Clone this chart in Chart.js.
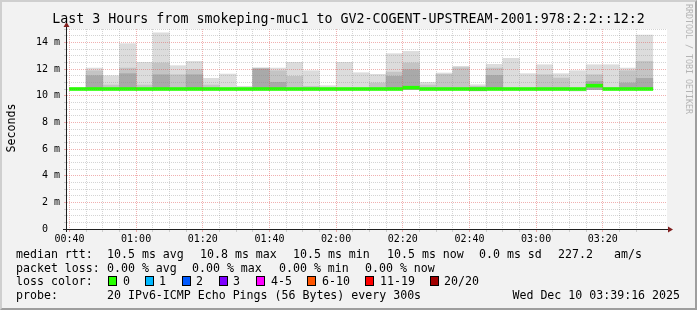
<!DOCTYPE html>
<html>
<head>
<meta charset="utf-8">
<script src="https://cdn.jsdelivr.net/npm/chart.js@4.4.1/dist/chart.umd.min.js"></script>
<style>
  html, body { margin: 0; padding: 0; background: #f2f2f2; }
  #frame { position: relative; width: 697px; height: 310px; background: #f2f2f2; overflow: hidden;
           font-family: "DejaVu Sans Mono", monospace; color: #000; }
  #chart { position: absolute; left: 0; top: 0; }
  #shade { position: absolute; left: 0; top: 0; width: 697px; height: 310px; box-sizing: border-box;
           border-top: 2px solid #cfcfcf; border-left: 2px solid #cfcfcf;
           border-right: 2px solid #9e9e9e; border-bottom: 2px solid #9e9e9e; pointer-events: none; }
  .t { position: absolute; white-space: pre; font-size: 11.6px; line-height: 14px; }
  #title { position: absolute; left: 0; top: 11px; width: 697px; text-align: center; white-space: pre;
           font-size: 13.3px; line-height: 16px; }
  #ylabel { position: absolute; left: -29px; top: 121px; width: 80px; height: 14px; text-align: center;
            font-size: 11.6px; line-height: 14px; transform: rotate(-90deg); }
  #mark { position: absolute; left: 684px; top: 4px; writing-mode: vertical-rl; font-size: 8.3px;
          color: #b4b4b4; white-space: pre; }
  .box { position: absolute; top: 276px; width: 9px; height: 10px; box-sizing: border-box; border: 1px solid #000; }
</style>
</head>
<body>
<div id="frame">
  <canvas id="chart" width="697" height="310"></canvas>
  <div id="title">Last 3 Hours from smokeping-muc1 to GV2-COGENT-UPSTREAM-2001:978:2:2::12:2</div>
  <div id="ylabel">Seconds</div>
  <div id="mark">RRDTOOL / TOBI OETIKER</div>

  <div class="t" style="left:16px;top:247px">median rtt:</div>
  <div class="t" style="left:107px;top:247px">10.5 ms avg</div>
  <div class="t" style="left:200px;top:247px">10.8 ms max</div>
  <div class="t" style="left:293px;top:247px">10.5 ms min</div>
  <div class="t" style="left:387px;top:247px">10.5 ms now</div>
  <div class="t" style="left:479px;top:247px">0.0 ms sd</div>
  <div class="t" style="left:558px;top:247px">227.2</div>
  <div class="t" style="left:614px;top:247px">am/s</div>

  <div class="t" style="left:16px;top:261px">packet loss:</div>
  <div class="t" style="left:107px;top:261px">0.00 % avg</div>
  <div class="t" style="left:192px;top:261px">0.00 % max</div>
  <div class="t" style="left:279px;top:261px">0.00 % min</div>
  <div class="t" style="left:365px;top:261px">0.00 % now</div>

  <div class="t" style="left:16px;top:274px">loss color:</div>
  <div id="lossKeys"></div>

  <div class="t" style="left:16px;top:288px">probe:</div>
  <div class="t" style="left:107px;top:288px">20 IPv6-ICMP Echo Pings (56 Bytes) every 300s</div>
  <div class="t" style="right:17px;top:288px">Wed Dec 10 03:39:16 2025</div>

  <div id="shade"></div>
</div>
<script>
// 5 minute steps, start time of each step
const times = ["00:40","00:45","00:50","00:55","01:00","01:05","01:10","01:15","01:20","01:25",
  "01:30","01:35","01:40","01:45","01:50","01:55","02:00","02:05","02:10","02:15",
  "02:20","02:25","02:30","02:35","02:40","02:45","02:50","02:55","03:00","03:05",
  "03:10","03:15","03:20","03:25","03:30"];

// values in ms
const medianRtt = [10.5,10.5,10.5,10.5,10.5,10.5,10.5,10.5,10.5,10.5,
  10.5,10.5,10.5,10.5,10.5,10.5,10.5,10.5,10.5,10.5,
  10.6,10.5,10.5,10.5,10.5,10.5,10.5,10.5,10.5,10.5,
  10.5,10.75,10.5,10.5,10.5];
const pingMin = [10.45,10.45,10.45,10.45,10.45,10.45,10.45,10.45,10.45,10.45,
  10.45,10.45,10.45,10.45,10.45,10.45,10.45,10.45,10.45,10.45,
  10.45,10.45,10.45,10.45,10.37,10.45,10.45,10.45,10.45,10.45,
  10.35,10.45,10.45,10.45,10.45];
const pingMax = [10.6,12.07,11.5,13.9,12.5,14.72,12.25,12.57,11.3,11.62,
  10.7,12.07,12.07,12.5,11.87,10.75,12.5,11.72,11.6,13.15,
  13.32,11.0,11.7,12.2,10.82,12.35,12.8,11.65,12.32,11.65,
  11.87,12.32,12.32,12.07,14.55];
const upperBand = [null,11.87,10.8,12.07,10.8,12.45,11.57,11.95,10.8,null,
  null,12.07,11.87,11.45,10.7,null,null,null,10.95,11.77,
  12.45,10.8,11.6,12.1,10.7,12.07,null,null,11.57,11.32,
  null,11.57,10.6,11.87,12.57];
const innerBand = [null,11.5,null,11.65,null,11.57,null,11.57,null,null,
  null,12.0,11.0,null,null,null,null,null,null,11.45,
  11.95,null,null,null,10.6,11.52,null,null,null,null,
  null,11.07,null,10.95,11.3];

const xTickLabels = ["00:40","01:00","01:20","01:40","02:00","02:20","02:40","03:00","03:20"];
const yTickLabels = ["0  ","2 m","4 m","6 m","8 m","10 m","12 m","14 m"];

const lossLabels = ["0","1","2","3","4-5","6-10","11-19","20/20"];
const lossColors = ["#26ff00","#00b8ff","#0059ff","#7e00ff","#ff00ff","#ff5500","#ff0000","#a10000"];

// minutes after 00:40
const toMin = t => { const [h, m] = t.split(":").map(Number); return h * 60 + m - 40; };
const stepMin = 5;
const xStart = -44 / 60;          // 00:39:16
const xEnd = 180 + xStart;        // 03:39:16

function band(tops) {
  return times.map((t, i) => tops[i] == null ? null : { x: toMin(t) + stepMin / 2, y: [pingMin[i], tops[i]] })
    .filter(Boolean);
}

// loss color legend
const keyPos = [[108, 123], [145, 159], [182, 196], [219, 233], [256, 271], [307, 322], [365, 380], [430, 444]];
const keys = document.getElementById("lossKeys");
lossLabels.forEach((lbl, i) => {
  const b = document.createElement("div");
  b.className = "box";
  b.style.left = keyPos[i][0] + "px";
  b.style.background = lossColors[i];
  keys.appendChild(b);
  const s = document.createElement("div");
  s.className = "t";
  s.style.left = keyPos[i][1] + "px";
  s.style.top = "274px";
  s.textContent = lbl;
  keys.appendChild(s);
});

const plotBackground = {
  id: "plotBackground",
  beforeDraw(chart) {
    const { ctx, chartArea: a } = chart;
    ctx.save();
    ctx.fillStyle = "#ffffff";
    ctx.fillRect(a.left, a.top, a.right - a.left, a.bottom - a.top);
    ctx.restore();
  }
};

const axisArrows = {
  id: "axisArrows",
  afterDraw(chart) {
    const { ctx, chartArea: a } = chart;
    const yb = Math.round(a.bottom) + 0.5;
    const xl = Math.round(a.left) - 0.5;
    ctx.save();
    ctx.strokeStyle = "#1f1f1f";
    ctx.lineWidth = 1;
    ctx.beginPath();
    ctx.moveTo(a.left - 4, yb); ctx.lineTo(a.right + 3, yb);
    ctx.moveTo(xl, a.bottom + 3); ctx.lineTo(xl, a.top - 3);
    ctx.stroke();
    ctx.fillStyle = "#801f1f";
    ctx.beginPath();
    ctx.moveTo(a.right + 1, yb - 3); ctx.lineTo(a.right + 6, yb); ctx.lineTo(a.right + 1, yb + 3);
    ctx.closePath(); ctx.fill();
    ctx.beginPath();
    ctx.moveTo(xl - 3, a.top - 2); ctx.lineTo(xl, a.top - 7); ctx.lineTo(xl + 3, a.top - 2);
    ctx.closePath(); ctx.fill();
    ctx.restore();
  }
};

const minorGrid = "rgba(143,143,143,0.38)";
const majorGrid = "rgba(222,79,79,0.45)";
const tickFont = { family: '"DejaVu Sans Mono", monospace', size: 10 };

new Chart(document.getElementById("chart"), {
  type: "bar",
  data: {
    datasets: [
      {
        label: "median rtt",
        order: 0,
        data: times.map((t, i) => ({ x: toMin(t) + stepMin / 2, y: [medianRtt[i] - 0.11, medianRtt[i] + 0.11] })),
        backgroundColor: lossColors[0]
      },
      { label: "smoke 3", order: 1, data: band(innerBand), backgroundColor: "#a9a9a9" },
      { label: "smoke 2", order: 2, data: band(upperBand), backgroundColor: "#c4c4c4" },
      { label: "smoke 1", order: 3, data: band(pingMax), backgroundColor: "#dcdcdc" }
    ]
  },
  options: {
    responsive: false,
    animation: false,
    events: [],
    layout: { padding: { left: 0, right: 30, top: 29, bottom: 0 } },
    datasets: { bar: { grouped: false, barPercentage: 1, categoryPercentage: 1, borderWidth: 0 } },
    plugins: { legend: { display: false }, tooltip: { enabled: false }, title: { display: false } },
    scales: {
      x: {
        type: "linear",
        min: xStart,
        max: xEnd,
        offset: false,
        afterBuildTicks: s => { s.ticks = times.map(t => ({ value: toMin(t) })); },
        afterFit: s => { s.height = 81; },
        grid: {
          offset: false,
          z: 1,
          tickLength: 3,
          color: c => (c.tick && c.tick.value % 20 === 0 ? majorGrid : minorGrid)
        },
        border: { display: false, dash: [1, 1] },
        ticks: {
          autoSkip: false,
          maxRotation: 0,
          padding: 1,
          color: "#000",
          font: tickFont,
          callback: v => (v % 20 === 0 ? xTickLabels[v / 20] : "")
        }
      },
      y: {
        min: 0,
        max: 15,
        afterBuildTicks: s => { s.ticks = Array.from({ length: 31 }, (_, i) => ({ value: i * 0.5 })); },
        afterFit: s => { s.width = 67; },
        grid: {
          z: 1,
          tickLength: 3,
          color: c => (c.tick && c.tick.value % 2 === 0 && c.tick.value < 15 ? majorGrid : minorGrid)
        },
        border: { display: false, dash: [1, 1] },
        ticks: {
          autoSkip: false,
          padding: 4,
          color: "#000",
          font: tickFont,
          callback: v => (v % 2 === 0 ? yTickLabels[v / 2] : "")
        }
      }
    }
  },
  plugins: [plotBackground, axisArrows]
});
</script>
</body>
</html>
